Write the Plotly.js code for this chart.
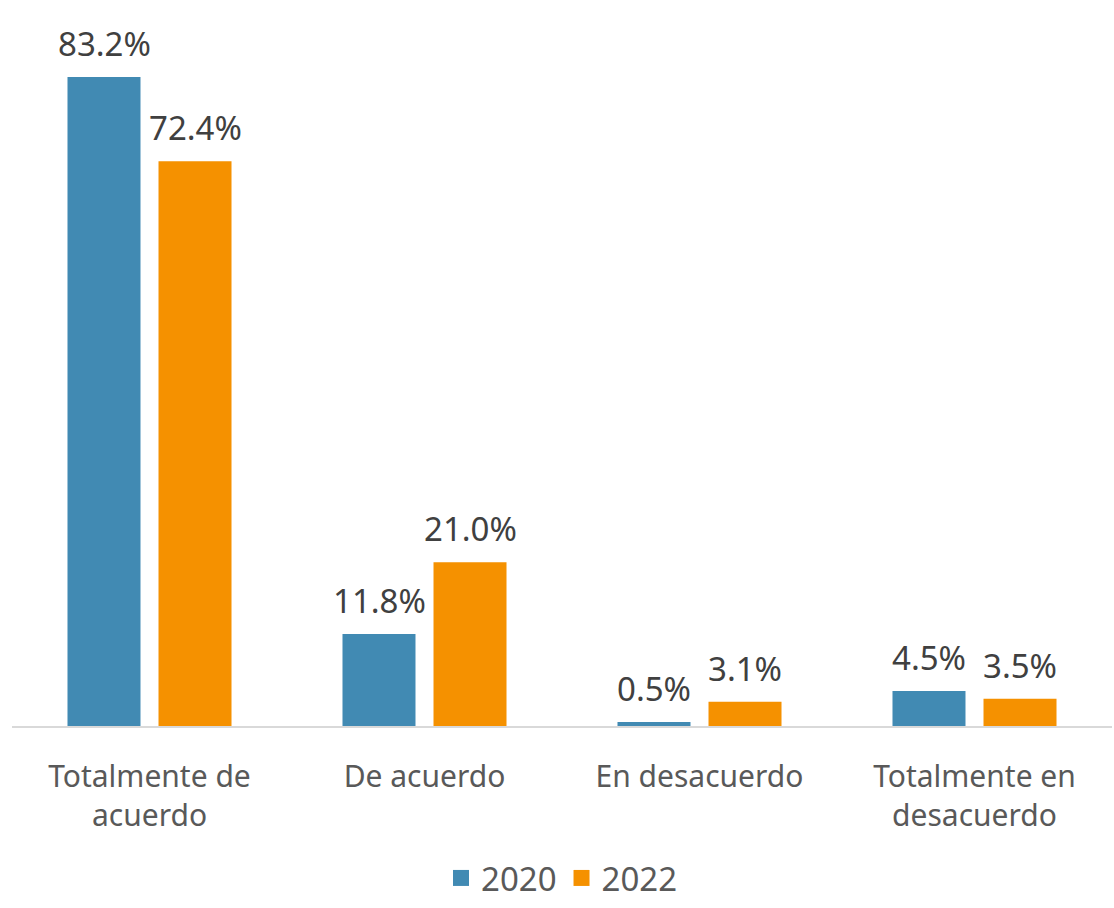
<!DOCTYPE html>
<html>
<head>
<meta charset="utf-8">
<script src="https://cdn.plot.ly/plotly-3.0.1.min.js"></script>
<style>html,body{margin:0;padding:0;background:#fff;}#chart{width:1114px;height:908px;}</style>
</head>
<body>
<div id="chart"></div>
<script>
const categories = ["Totalmente de<br>acuerdo", "De acuerdo", "En desacuerdo", "Totalmente en<br>desacuerdo"];
const years = ["2020", "2022"];
const values2020 = [83.2, 11.8, 0.5, 4.5];
const values2022 = [72.4, 21.0, 3.1, 3.5];
const colors = ["#418AB3", "#F59100"];

const series = [values2020, values2022];
const traces = series.map((vals, i) => ({
  type: "bar",
  name: years[i],
  x: categories,
  y: vals,
  marker: {color: colors[i]},
  showlegend: false,
  legendgroup: years[i],
  hoverinfo: "none"
}));
// legend entries with larger square swatches
years.forEach((yr, i) => {
  traces.push({
    type: "scatter", mode: "markers",
    name: yr, legendgroup: yr,
    x: [null], y: [null],
    marker: {symbol: "square", size: 18, color: colors[i]},
    hoverinfo: "none", showlegend: true
  });
});

const annotations = [];
series.forEach((vals, i) => {
  vals.forEach((v, j) => {
    annotations.push({
      x: categories[j], y: v, xref: "x", yref: "y",
      text: v.toFixed(1) + "%",
      showarrow: false,
      xanchor: "center", yanchor: "bottom",
      xshift: i === 0 ? -45.5 : 45.5,
      yshift: 9,
      font: {family: "Noto Sans, sans-serif", size: 33, color: "#404040"}
    });
  });
});

const layout = {
  width: 1114, height: 908,
  margin: {l: 12, r: 2, t: 24, b: 182, autoexpand: false},
  paper_bgcolor: "#fff", plot_bgcolor: "#fff",
  barmode: "group",
  bargap: 0.338,
  bargroupgap: 0.198,
  font: {family: "Noto Sans, sans-serif", color: "#595959"},
  xaxis: {
    showline: true, linecolor: "#D9D9D9", linewidth: 2,
    ticks: "", showgrid: false, automargin: false,
    ticklabelstandoff: 23,
    tickfont: {size: 30, color: "#595959"}
  },
  yaxis: {
    range: [0, 90], visible: false, showgrid: false, zeroline: false, automargin: false
  },
  showlegend: true,
  legend: {
    orientation: "h", x: 0.5, xanchor: "center",
    y: -0.2564, yanchor: "bottom",
    font: {size: 33, color: "#595959"},
    itemsizing: "trace",
    traceorder: "normal"
  },
  annotations: annotations
};

Plotly.newPlot("chart", traces, layout, {displayModeBar: false, staticPlot: true});
</script>
</body>
</html>
